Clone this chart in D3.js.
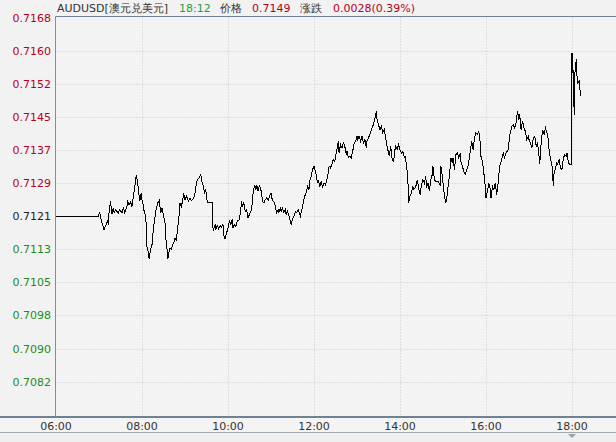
<!DOCTYPE html>
<html><head><meta charset="utf-8">
<script src="https://cdn.jsdelivr.net/npm/d3@7/dist/d3.min.js"></script>
<style>
html,body{margin:0;padding:0;background:#f2f2f2;}
svg{display:block;}
text{font-family:"DejaVu Sans",Verdana,sans-serif;}
</style></head><body>
<svg id="chart" width="616" height="442"></svg>
<script>
const prevClose = 0.71211;
const lastPrice = "0.7149";
const change = "0.0028(0.39%)";
const nowTime = "18:12";
const symbol = "AUDUSD[澳元兑美元]";
const yTickValues = [0.716802,0.71602,0.715238,0.714456,0.713674,0.712892,0.71211,0.711328,0.710546,0.709764,0.708982,0.7082];
const xTickLabels = ["06:00","08:00","10:00","12:00","14:00","16:00","18:00"];
const times = ["06:00","06:59","07:01","07:04","07:07","07:10","07:12","07:13","07:14","07:16","07:18","07:20","07:21","07:23","07:25","07:27","07:29","07:32","07:34","07:36","07:39","07:40","07:42","07:44","07:46","07:48","07:49","07:51","07:52","07:54","07:56","07:57","07:59",
"08:00","08:02","08:03","08:05","08:06","08:07","08:09","08:10","08:12","08:14","08:15","08:17","08:18","08:20","08:22","08:24","08:25","08:26","08:28","08:30","08:32","08:33","08:35","08:36","08:38","08:39","08:41","08:42","08:45","08:46","08:48","08:50","08:52","08:53","08:55","08:57","08:58",
"09:00","09:02","09:05","09:07","09:09","09:12","09:14","09:15","09:17","09:20","09:22","09:24","09:26","09:27","09:29","09:30","09:32","09:39","09:39","09:40","09:42","09:43","09:45","09:47","09:49","09:51","09:53","09:54","09:56","09:58",
"10:00","10:02","10:04","10:06","10:07","10:09","10:11","10:13","10:16","10:18","10:19","10:20","10:22","10:24","10:26","10:28","10:30","10:32","10:34","10:35","10:37","10:39","10:40","10:42","10:44","10:45","10:47","10:48","10:50","10:52","10:54","10:56","10:58",
"11:00","11:01","11:03","11:05","11:07","11:08","11:10","11:11","11:13","11:14","11:16","11:18","11:20","11:21","11:23","11:25","11:27","11:28","11:30","11:32","11:34","11:36","11:38","11:40","11:41","11:43","11:45","11:47","11:49","11:51","11:53","11:54","11:56","11:58",
"12:00","12:02","12:03","12:05","12:06","12:08","12:10","12:12","12:14","12:16","12:18","12:20","12:21","12:23","12:25","12:27","12:29","12:30","12:32","12:34","12:35","12:37","12:39","12:41","12:43","12:45","12:46","12:48","12:50","12:52","12:54","12:56","12:58",
"13:00","13:01","13:03","13:05","13:07","13:09","13:11","13:13","13:14","13:16","13:18","13:20","13:22","13:24","13:26","13:27","13:28","13:30","13:32","13:34","13:36","13:38","13:40","13:42","13:43","13:45","13:47","13:49","13:51","13:53","13:54","13:56","13:58",
"14:00","14:02","14:04","14:06","14:07","14:09","14:11","14:12","14:14","14:16","14:18","14:19","14:21","14:23","14:24","14:26","14:28","14:30","14:32","14:34","14:36","14:37","14:39","14:41","14:43","14:45","14:46","14:48","14:50","14:53","14:56","14:57","14:59",
"15:01","15:02","15:04","15:06","15:07","15:09","15:11","15:13","15:14","15:16","15:18","15:20","15:22","15:24","15:25","15:27","15:29","15:31","15:33","15:35","15:37","15:39","15:40","15:42","15:44","15:46","15:48","15:50","15:52","15:53","15:55","15:57","15:59",
"16:00","16:02","16:04","16:06","16:07","16:09","16:11","16:13","16:15","16:17","16:19","16:21","16:23","16:24","16:26","16:28","16:31","16:33","16:34","16:36","16:38","16:40","16:42","16:44","16:46","16:47","16:49","16:51","16:53","16:55","16:57","16:59",
"17:00","17:02","17:04","17:06","17:08","17:10","17:12","17:14","17:15","17:17","17:19","17:21","17:23","17:25","17:27","17:28","17:30","17:32","17:34","17:35","17:37","17:39","17:40","17:42","17:44","17:46","17:48","17:50","17:52","17:53","17:55","17:57","17:59",
"18:00","18:01","18:02","18:03","18:04","18:06","18:07","18:08","18:10","18:12"];
const prices = [0.71211,0.71211,0.71219,0.71196,0.71179,0.71191,0.71199,0.71191,0.71219,0.71246,0.71215,0.71231,0.71219,0.71226,0.71222,0.71219,0.71226,0.71219,0.71230,0.71219,0.71234,0.71246,0.71238,0.71244,0.71234,0.71258,0.71270,0.71293,0.71309,0.71289,0.71258,0.71246,0.71266,
0.71250,0.71234,0.71222,0.71211,0.71187,0.71137,0.71124,0.71110,0.71132,0.71144,0.71167,0.71195,0.71207,0.71230,0.71242,0.71248,0.71234,0.71219,0.71230,0.71211,0.71199,0.71163,0.71132,0.71110,0.71128,0.71136,0.71132,0.71140,0.71151,0.71159,0.71155,0.71187,0.71215,0.71242,0.71234,0.71250,0.71266,
0.71250,0.71258,0.71246,0.71254,0.71248,0.71252,0.71266,0.71278,0.71297,0.71301,0.71309,0.71289,0.71281,0.71266,0.71274,0.71254,0.71242,0.71242,0.71183,0.71179,0.71191,0.71179,0.71189,0.71181,0.71189,0.71185,0.71191,0.71167,0.71157,0.71171,
0.71183,0.71199,0.71191,0.71203,0.71183,0.71191,0.71187,0.71199,0.71203,0.71230,0.71246,0.71234,0.71242,0.71222,0.71226,0.71207,0.71215,0.71222,0.71242,0.71266,0.71285,0.71274,0.71285,0.71270,0.71285,0.71278,0.71266,0.71246,0.71242,0.71250,0.71254,0.71248,0.71258,
0.71266,0.71254,0.71246,0.71242,0.71226,0.71219,0.71226,0.71220,0.71230,0.71222,0.71230,0.71220,0.71226,0.71215,0.71222,0.71212,0.71199,0.71191,0.71203,0.71211,0.71222,0.71219,0.71226,0.71215,0.71211,0.71226,0.71242,0.71258,0.71266,0.71281,0.71274,0.71293,0.71305,0.71321,
0.71329,0.71317,0.71309,0.71289,0.71297,0.71281,0.71293,0.71280,0.71289,0.71285,0.71297,0.71313,0.71329,0.71325,0.71333,0.71345,0.71340,0.71352,0.71368,0.71388,0.71360,0.71380,0.71372,0.71384,0.71376,0.71356,0.71364,0.71349,0.71352,0.71349,0.71364,0.71384,0.71388,
0.71400,0.71392,0.71400,0.71388,0.71400,0.71384,0.71392,0.71372,0.71388,0.71396,0.71404,0.71415,0.71423,0.71435,0.71447,0.71459,0.71439,0.71427,0.71415,0.71423,0.71408,0.71415,0.71396,0.71376,0.71368,0.71352,0.71376,0.71345,0.71340,0.71368,0.71376,0.71368,0.71380,
0.71368,0.71360,0.71364,0.71349,0.71352,0.71333,0.71297,0.71242,0.71258,0.71266,0.71281,0.71274,0.71278,0.71286,0.71297,0.71278,0.71262,0.71285,0.71297,0.71289,0.71305,0.71278,0.71289,0.71270,0.71297,0.71309,0.71329,0.71297,0.71293,0.71293,0.71285,0.71329,0.71305,
0.71274,0.71258,0.71242,0.71262,0.71281,0.71305,0.71349,0.71337,0.71349,0.71321,0.71356,0.71360,0.71349,0.71360,0.71340,0.71329,0.71317,0.71309,0.71321,0.71329,0.71352,0.71376,0.71388,0.71368,0.71396,0.71408,0.71404,0.71411,0.71384,0.71352,0.71340,0.71313,0.71281,
0.71254,0.71270,0.71289,0.71274,0.71254,0.71281,0.71274,0.71289,0.71262,0.71289,0.71329,0.71340,0.71352,0.71360,0.71349,0.71360,0.71368,0.71400,0.71408,0.71423,0.71427,0.71419,0.71431,0.71459,0.71439,0.71451,0.71415,0.71435,0.71419,0.71411,0.71392,0.71400,
0.71392,0.71384,0.71372,0.71396,0.71400,0.71376,0.71384,0.71352,0.71333,0.71384,0.71415,0.71404,0.71419,0.71408,0.71392,0.71368,0.71345,0.71333,0.71281,0.71313,0.71325,0.71337,0.71333,0.71345,0.71325,0.71321,0.71349,0.71356,0.71352,0.71360,0.71337,0.71333,0.71333,
0.71597,0.71549,0.71557,0.71451,0.71549,0.71581,0.71541,0.71526,0.71530,0.71495];

const toMin = s => { const [h,m] = s.split(":").map(Number); return h*60+m; };
const data = times.map((t,i)=>({t:toMin(t), v:prices[i]}));

const svg = d3.select("#chart");
const L = 55.5, R = 616, T = 17.5, B = 414.7;
const x = d3.scaleLinear().domain([toMin("06:00"), toMin("19:00")]).range([56, 615]);
const step = (yTickValues[0]-yTickValues[yTickValues.length-1])/(yTickValues.length-1);
const y = d3.scaleLinear().domain([yTickValues[yTickValues.length-1]-step, yTickValues[0]]).range([B, T]);

svg.append("rect").attr("x",0).attr("y",0).attr("width",616).attr("height",442).attr("fill","#f2f2f2");
svg.append("rect").attr("x",L).attr("y",T).attr("width",R-L).attr("height",B-T+1).attr("fill","#f3f3f3");

svg.append("g").selectAll("line").data(yTickValues.slice(1)).join("line")
  .attr("x1",L).attr("x2",R).attr("y1",d=>Math.round(y(d))+0.5).attr("y2",d=>Math.round(y(d))+0.5)
  .attr("stroke","#c8c8c8").attr("stroke-dasharray","1,2");
svg.append("g").selectAll("line").data(xTickLabels.slice(1)).join("line")
  .attr("x1",d=>Math.round(x(toMin(d)))+0.5).attr("x2",d=>Math.round(x(toMin(d)))+0.5)
  .attr("y1",T).attr("y2",416)
  .attr("stroke","#c8c8c8").attr("stroke-dasharray","1,2");

const fmt = d3.format(".4f");
svg.append("g").selectAll("text").data(yTickValues).join("text")
  .attr("x",51).attr("y",d=>y(d)+4)
  .attr("text-anchor","end").attr("font-size","11px")
  .attr("fill",d=>Math.abs(d-prevClose)<1e-6?"#222":(d>prevClose?"#b8001c":"#1e8a1e"))
  .text(d=>fmt(d));

svg.append("line").attr("x1",L).attr("x2",L).attr("y1",T-1).attr("y2",417).attr("stroke","#8c8c8c");
svg.append("line").attr("x1",L).attr("x2",R).attr("y1",16.5).attr("y2",16.5).attr("stroke","#6e8294");

svg.append("rect").attr("x",0).attr("y",416).attr("width",616).attr("height",2).attr("fill","#6e8294");
svg.append("rect").attr("x",0).attr("y",418).attr("width",616).attr("height",14).attr("fill","#f4f4f4");
svg.append("line").attr("x1",0).attr("x2",616).attr("y1",432.5).attr("y2",432.5).attr("stroke","#a0a8b0");
svg.append("rect").attr("x",0).attr("y",433).attr("width",616).attr("height",9).attr("fill","#efefef");
svg.append("path").attr("d",`M${x(toMin("18:00"))-4},434 L${x(toMin("18:00"))+4},434 L${x(toMin("18:00"))},438 Z`).attr("fill","#9aa2aa");

svg.append("g").selectAll("text").data(xTickLabels).join("text")
  .attr("x",d=>x(toMin(d))).attr("y",430)
  .attr("text-anchor","middle").attr("font-size","11px").attr("fill","#333")
  .text(d=>d);

const line = d3.line().x(d=>x(d.t)).y(d=>y(d.v));
svg.append("path").datum(data).attr("d",line).attr("fill","none").attr("stroke","#000").attr("stroke-width",1)
  .attr("shape-rendering","crispEdges");

const segs = [[57,symbol,"#333"],[179,nowTime,"#2e9a3e"],[220,"价格","#333"],[252,lastPrice,"#b8001c"],[300,"涨跌","#333"],[333,change,"#b8001c"]];
segs.forEach(([px,txt,c])=>svg.append("text").attr("x",px).attr("y",12).attr("font-size","11px").attr("fill",c).text(txt));
</script>
</body></html>
